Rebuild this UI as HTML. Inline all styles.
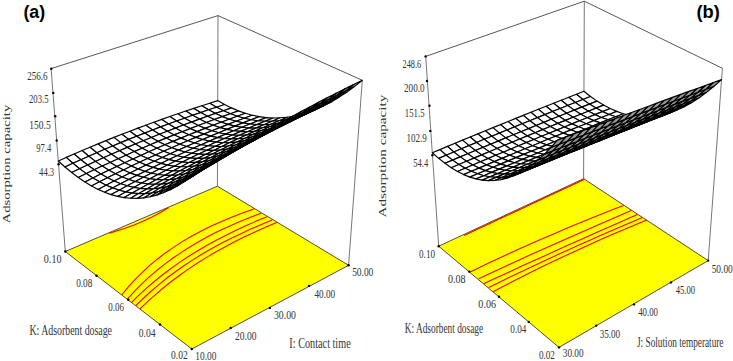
<!DOCTYPE html>
<html><head><meta charset="utf-8"><style>
html,body{margin:0;padding:0;background:#fff;overflow:hidden}
svg{display:block}
.n{font-family:"Liberation Serif",serif;fill:#333}
.h{font-family:"Liberation Sans",sans-serif;font-weight:bold;fill:#000}
</style></head><body>
<svg width="733" height="361" viewBox="0 0 733 361">
<rect width="733" height="361" fill="#fff"/>
<polygon points="191.8,349.0 348.6,265.3 217.4,186.2 65.3,251.5" fill="#ffff00" stroke="#222" stroke-width="0.8"/>
<g fill="none" stroke="#f00" stroke-width="1.1" stroke-linejoin="round"><polyline points="121.7,295.0 128.1,287.2 134.9,279.7 142.0,272.6 149.4,265.7 157.2,259.2 165.3,253.0 173.8,247.1 182.6,241.4 191.8,236.0 201.3,230.9 211.2,226.0 221.5,221.4 232.1,217.0 243.1,212.8 254.5,208.8"/><polyline points="127.4,299.1 134.2,291.6 141.3,284.4 148.7,277.4 156.4,270.8 164.4,264.4 172.7,258.2 181.3,252.4 190.2,246.7 199.4,241.3 208.9,236.1 218.7,231.1 228.8,226.4 239.3,221.8 250.0,217.4 261.1,213.3"/><polyline points="131.6,302.3 138.9,295.1 146.5,288.2 154.3,281.5 162.3,275.0 170.6,268.7 179.1,262.6 187.9,256.8 196.9,251.2 206.2,245.7 215.7,240.4 225.5,235.4 235.5,230.5 245.8,225.7 256.3,221.1 267.1,216.7"/><polyline points="135.8,305.7 143.2,298.5 150.7,291.5 158.6,284.8 166.6,278.3 175.0,272.0 183.5,266.0 192.4,260.1 201.4,254.5 210.8,249.1 220.4,243.8 230.2,238.7 240.3,233.9 250.7,229.1 261.3,224.6 272.2,220.1"/><polyline points="140.0,308.9 147.5,301.7 155.2,294.8 163.1,288.0 171.3,281.5 179.7,275.2 188.3,269.1 197.1,263.3 206.2,257.6 215.6,252.0 225.2,246.7 235.0,241.5 245.0,236.6 255.4,231.7 265.9,227.0 276.7,222.5"/></g><polyline fill="none" stroke="#f00" stroke-width="1.1" points="109.2,233.3 114.3,231.7 119.4,230.1 124.4,228.5 129.3,226.7 134.1,225.0 138.8,223.1 143.4,221.1 147.8,219.0 152.1,216.9 156.3,214.7 160.4,212.4 164.5,210.1 168.5,207.8"/>
<g stroke="#666" stroke-width="0.9"><line x1="65.3" y1="251.5" x2="51.1" y2="68.6"/><line x1="217.4" y1="186.2" x2="218.0" y2="15.6"/><line x1="348.6" y1="265.3" x2="362.3" y2="80.3"/></g>
<g stroke="#444" stroke-width="0.9"><line x1="51.1" y1="68.6" x2="218.0" y2="15.6"/><line x1="218.0" y1="15.6" x2="362.3" y2="80.3"/></g>
<g fill="#000"><circle cx="65.3" cy="251.5" r="1.2"/><circle cx="96.5" cy="275.7" r="1.2"/><circle cx="128.3" cy="299.7" r="1.2"/><circle cx="160.0" cy="324.5" r="1.2"/><circle cx="191.8" cy="349.0" r="1.2"/><circle cx="230.7" cy="328.0" r="1.2"/><circle cx="269.9" cy="307.9" r="1.2"/><circle cx="309.0" cy="285.9" r="1.2"/><circle cx="348.6" cy="265.3" r="1.2"/><circle cx="51.3" cy="68.8" r="1.2"/><circle cx="53.3" cy="92.9" r="1.2"/><circle cx="55.2" cy="116.2" r="1.2"/><circle cx="56.7" cy="140.5" r="1.2"/><circle cx="58.6" cy="164.3" r="1.2"/></g>
<g fill="#fff" stroke="#000" stroke-width="1.15" stroke-linejoin="round">
<polygon points="216.6,107.2 224.6,104.5 217.7,100.6 209.7,103.2"/>
<polygon points="208.6,109.8 216.6,107.2 209.7,103.2 201.7,105.7"/>
<polygon points="223.5,110.7 231.5,107.9 224.6,104.5 216.6,107.2"/>
<polygon points="200.6,112.6 208.6,109.8 201.7,105.7 193.8,108.4"/>
<polygon points="215.5,113.4 223.5,110.7 216.6,107.2 208.6,109.8"/>
<polygon points="230.4,113.7 238.4,110.9 231.5,107.9 223.5,110.7"/>
<polygon points="192.6,115.3 200.6,112.6 193.8,108.4 185.8,111.0"/>
<polygon points="207.5,116.3 215.5,113.4 208.6,109.8 200.6,112.6"/>
<polygon points="222.3,116.6 230.4,113.7 223.5,110.7 215.5,113.4"/>
<polygon points="237.3,116.2 245.3,113.3 238.4,110.9 230.4,113.7"/>
<polygon points="184.6,118.2 192.6,115.3 185.8,111.0 177.8,113.8"/>
<polygon points="199.5,119.1 207.5,116.3 200.6,112.6 192.6,115.3"/>
<polygon points="214.3,119.5 222.3,116.6 215.5,113.4 207.5,116.3"/>
<polygon points="229.2,119.2 237.3,116.2 230.4,113.7 222.3,116.6"/>
<polygon points="244.2,118.2 252.2,115.2 245.3,113.3 237.3,116.2"/>
<polygon points="176.6,121.0 184.6,118.2 177.8,113.8 169.8,116.5"/>
<polygon points="191.5,122.1 199.5,119.1 192.6,115.3 184.6,118.2"/>
<polygon points="206.3,122.5 214.3,119.5 207.5,116.3 199.5,119.1"/>
<polygon points="221.2,122.2 229.2,119.2 222.3,116.6 214.3,119.5"/>
<polygon points="236.1,121.3 244.2,118.2 237.3,116.2 229.2,119.2"/>
<polygon points="168.6,124.0 176.6,121.0 169.8,116.5 161.8,119.4"/>
<polygon points="251.1,119.8 259.2,116.6 252.2,115.2 244.2,118.2"/>
<polygon points="183.4,125.0 191.5,122.1 184.6,118.2 176.6,121.0"/>
<polygon points="198.3,125.5 206.3,122.5 199.5,119.1 191.5,122.1"/>
<polygon points="213.1,125.3 221.2,122.2 214.3,119.5 206.3,122.5"/>
<polygon points="228.1,124.4 236.1,121.3 229.2,119.2 221.2,122.2"/>
<polygon points="160.6,126.9 168.6,124.0 161.8,119.4 153.8,122.2"/>
<polygon points="243.0,122.9 251.1,119.8 244.2,118.2 236.1,121.3"/>
<polygon points="175.4,128.1 183.4,125.0 176.6,121.0 168.6,124.0"/>
<polygon points="190.3,128.6 198.3,125.5 191.5,122.1 183.4,125.0"/>
<polygon points="258.1,120.8 266.2,117.6 259.2,116.6 251.1,119.8"/>
<polygon points="205.1,128.4 213.1,125.3 206.3,122.5 198.3,125.5"/>
<polygon points="220.0,127.6 228.1,124.4 221.2,122.2 213.1,125.3"/>
<polygon points="152.6,130.0 160.6,126.9 153.8,122.2 145.8,125.2"/>
<polygon points="234.9,126.1 243.0,122.9 236.1,121.3 228.1,124.4"/>
<polygon points="167.4,131.2 175.4,128.1 168.6,124.0 160.6,126.9"/>
<polygon points="182.2,131.7 190.3,128.6 183.4,125.0 175.4,128.1"/>
<polygon points="250.0,124.0 258.1,120.8 251.1,119.8 243.0,122.9"/>
<polygon points="197.1,131.6 205.1,128.4 198.3,125.5 190.3,128.6"/>
<polygon points="211.9,130.8 220.0,127.6 213.1,125.3 205.1,128.4"/>
<polygon points="265.1,121.3 273.2,118.0 266.2,117.6 258.1,120.8"/>
<polygon points="144.7,133.1 152.6,130.0 145.8,125.2 137.9,128.1"/>
<polygon points="226.9,129.4 234.9,126.1 228.1,124.4 220.0,127.6"/>
<polygon points="159.4,134.3 167.4,131.2 160.6,126.9 152.6,130.0"/>
<polygon points="174.2,134.9 182.2,131.7 175.4,128.1 167.4,131.2"/>
<polygon points="241.8,127.3 250.0,124.0 243.0,122.9 234.9,126.1"/>
<polygon points="189.0,134.8 197.1,131.6 190.3,128.6 182.2,131.7"/>
<polygon points="203.9,134.1 211.9,130.8 205.1,128.4 197.1,131.6"/>
<polygon points="256.9,124.6 265.1,121.3 258.1,120.8 250.0,124.0"/>
<polygon points="136.7,136.2 144.7,133.1 137.9,128.1 129.9,131.2"/>
<polygon points="218.8,132.7 226.9,129.4 220.0,127.6 211.9,130.8"/>
<polygon points="151.4,137.5 159.4,134.3 152.6,130.0 144.7,133.1"/>
<polygon points="166.2,138.1 174.2,134.9 167.4,131.2 159.4,134.3"/>
<polygon points="272.1,121.2 280.3,117.8 273.2,118.0 265.1,121.3"/>
<polygon points="233.7,130.7 241.8,127.3 234.9,126.1 226.9,129.4"/>
<polygon points="181.0,138.1 189.0,134.8 182.2,131.7 174.2,134.9"/>
<polygon points="195.8,137.4 203.9,134.1 197.1,131.6 189.0,134.8"/>
<polygon points="248.8,128.0 256.9,124.6 250.0,124.0 241.8,127.3"/>
<polygon points="128.7,139.4 136.7,136.2 129.9,131.2 121.9,134.3"/>
<polygon points="210.7,136.1 218.8,132.7 211.9,130.8 203.9,134.1"/>
<polygon points="143.4,140.7 151.4,137.5 144.7,133.1 136.7,136.2"/>
<polygon points="158.2,141.4 166.2,138.1 159.4,134.3 151.4,137.5"/>
<polygon points="263.9,124.7 272.1,121.2 265.1,121.3 256.9,124.6"/>
<polygon points="225.6,134.1 233.7,130.7 226.9,129.4 218.8,132.7"/>
<polygon points="173.0,141.4 181.0,138.1 174.2,134.9 166.2,138.1"/>
<polygon points="187.8,140.8 195.8,137.4 189.0,134.8 181.0,138.1"/>
<polygon points="240.7,131.4 248.8,128.0 241.8,127.3 233.7,130.7"/>
<polygon points="279.2,120.7 287.4,117.2 280.3,117.8 272.1,121.2"/>
<polygon points="120.7,142.6 128.7,139.4 121.9,134.3 113.9,137.4"/>
<polygon points="202.6,139.5 210.7,136.1 203.9,134.1 195.8,137.4"/>
<polygon points="135.4,144.0 143.4,140.7 136.7,136.2 128.7,139.4"/>
<polygon points="150.2,144.8 158.2,141.4 151.4,137.5 143.4,140.7"/>
<polygon points="255.8,128.1 263.9,124.7 256.9,124.6 248.8,128.0"/>
<polygon points="217.5,137.6 225.6,134.1 218.8,132.7 210.7,136.1"/>
<polygon points="164.9,144.8 173.0,141.4 166.2,138.1 158.2,141.4"/>
<polygon points="179.7,144.2 187.8,140.8 181.0,138.1 173.0,141.4"/>
<polygon points="232.5,135.0 240.7,131.4 233.7,130.7 225.6,134.1"/>
<polygon points="271.0,124.2 279.2,120.7 272.1,121.2 263.9,124.7"/>
<polygon points="112.7,146.0 120.7,142.6 113.9,137.4 106.0,140.6"/>
<polygon points="194.5,143.0 202.6,139.5 195.8,137.4 187.8,140.8"/>
<polygon points="127.4,147.4 135.4,144.0 128.7,139.4 120.7,142.6"/>
<polygon points="142.2,148.2 150.2,144.8 143.4,140.7 135.4,144.0"/>
<polygon points="247.6,131.7 255.8,128.1 248.8,128.0 240.7,131.4"/>
<polygon points="209.4,141.1 217.5,137.6 210.7,136.1 202.6,139.5"/>
<polygon points="156.9,148.3 164.9,144.8 158.2,141.4 150.2,144.8"/>
<polygon points="286.3,119.6 294.5,116.0 287.4,117.2 279.2,120.7"/>
<polygon points="171.7,147.7 179.7,144.2 173.0,141.4 164.9,144.8"/>
<polygon points="224.4,138.5 232.5,135.0 225.6,134.1 217.5,137.6"/>
<polygon points="262.8,127.8 271.0,124.2 263.9,124.7 255.8,128.1"/>
<polygon points="104.8,149.3 112.7,146.0 106.0,140.6 98.0,143.9"/>
<polygon points="186.5,146.5 194.5,143.0 187.8,140.8 179.7,144.2"/>
<polygon points="119.5,150.8 127.4,147.4 120.7,142.6 112.7,146.0"/>
<polygon points="134.2,151.6 142.2,148.2 135.4,144.0 127.4,147.4"/>
<polygon points="239.4,135.3 247.6,131.7 240.7,131.4 232.5,135.0"/>
<polygon points="201.3,144.7 209.4,141.1 202.6,139.5 194.5,143.0"/>
<polygon points="148.9,151.8 156.9,148.3 150.2,144.8 142.2,148.2"/>
<polygon points="278.1,123.2 286.3,119.6 279.2,120.7 271.0,124.2"/>
<polygon points="163.6,151.3 171.7,147.7 164.9,144.8 156.9,148.3"/>
<polygon points="216.3,142.1 224.4,138.5 217.5,137.6 209.4,141.1"/>
<polygon points="254.6,131.4 262.8,127.8 255.8,128.1 247.6,131.7"/>
<polygon points="96.8,152.7 104.8,149.3 98.0,143.9 90.0,147.2"/>
<polygon points="178.4,150.1 186.5,146.5 179.7,144.2 171.7,147.7"/>
<polygon points="111.5,154.3 119.5,150.8 112.7,146.0 104.8,149.3"/>
<polygon points="293.5,117.9 301.8,114.3 294.5,116.0 286.3,119.6"/>
<polygon points="126.2,155.2 134.2,151.6 127.4,147.4 119.5,150.8"/>
<polygon points="231.3,138.9 239.4,135.3 232.5,135.0 224.4,138.5"/>
<polygon points="193.2,148.3 201.3,144.7 194.5,143.0 186.5,146.5"/>
<polygon points="140.9,155.4 148.9,151.8 142.2,148.2 134.2,151.6"/>
<polygon points="269.8,126.8 278.1,123.2 271.0,124.2 262.8,127.8"/>
<polygon points="155.6,154.9 163.6,151.3 156.9,148.3 148.9,151.8"/>
<polygon points="208.1,145.8 216.3,142.1 209.4,141.1 201.3,144.7"/>
<polygon points="246.4,135.1 254.6,131.4 247.6,131.7 239.4,135.3"/>
<polygon points="88.8,156.2 96.8,152.7 90.0,147.2 82.1,150.5"/>
<polygon points="170.3,153.8 178.4,150.1 171.7,147.7 163.6,151.3"/>
<polygon points="103.5,157.8 111.5,154.3 104.8,149.3 96.8,152.7"/>
<polygon points="285.2,121.6 293.5,117.9 286.3,119.6 278.1,123.2"/>
<polygon points="118.2,158.7 126.2,155.2 119.5,150.8 111.5,154.3"/>
<polygon points="223.1,142.7 231.3,138.9 224.4,138.5 216.3,142.1"/>
<polygon points="185.1,152.0 193.2,148.3 186.5,146.5 178.4,150.1"/>
<polygon points="132.9,159.0 140.9,155.4 134.2,151.6 126.2,155.2"/>
<polygon points="261.6,130.5 269.8,126.8 262.8,127.8 254.6,131.4"/>
<polygon points="147.6,158.6 155.6,154.9 148.9,151.8 140.9,155.4"/>
<polygon points="200.0,149.5 208.1,145.8 201.3,144.7 193.2,148.3"/>
<polygon points="300.7,115.7 309.0,112.0 301.8,114.3 293.5,117.9"/>
<polygon points="238.2,138.8 246.4,135.1 239.4,135.3 231.3,138.9"/>
<polygon points="80.9,159.7 88.8,156.2 82.1,150.5 74.1,154.0"/>
<polygon points="162.3,157.5 170.3,153.8 163.6,151.3 155.6,154.9"/>
<polygon points="95.5,161.4 103.5,157.8 96.8,152.7 88.8,156.2"/>
<polygon points="276.9,125.4 285.2,121.6 278.1,123.2 269.8,126.8"/>
<polygon points="110.2,162.4 118.2,158.7 111.5,154.3 103.5,157.8"/>
<polygon points="215.0,146.4 223.1,142.7 216.3,142.1 208.1,145.8"/>
<polygon points="177.1,155.8 185.1,152.0 178.4,150.1 170.3,153.8"/>
<polygon points="124.8,162.7 132.9,159.0 126.2,155.2 118.2,158.7"/>
<polygon points="253.4,134.3 261.6,130.5 254.6,131.4 246.4,135.1"/>
<polygon points="139.5,162.3 147.6,158.6 140.9,155.4 132.9,159.0"/>
<polygon points="191.9,153.3 200.0,149.5 193.2,148.3 185.1,152.0"/>
<polygon points="230.0,142.6 238.2,138.8 231.3,138.9 223.1,142.7"/>
<polygon points="292.4,119.5 300.7,115.7 293.5,117.9 285.2,121.6"/>
<polygon points="72.9,163.3 80.9,159.7 74.1,154.0 66.2,157.4"/>
<polygon points="154.2,161.3 162.3,157.5 155.6,154.9 147.6,158.6"/>
<polygon points="87.6,165.0 95.5,161.4 88.8,156.2 80.9,159.7"/>
<polygon points="268.7,129.2 276.9,125.4 269.8,126.8 261.6,130.5"/>
<polygon points="102.2,166.1 110.2,162.4 103.5,157.8 95.5,161.4"/>
<polygon points="206.8,150.2 215.0,146.4 208.1,145.8 200.0,149.5"/>
<polygon points="169.0,159.6 177.1,155.8 170.3,153.8 162.3,157.5"/>
<polygon points="116.9,166.4 124.8,162.7 118.2,158.7 110.2,162.4"/>
<polygon points="245.1,138.2 253.4,134.3 246.4,135.1 238.2,138.8"/>
<polygon points="131.5,166.1 139.5,162.3 132.9,159.0 124.8,162.7"/>
<polygon points="308.0,113.0 316.4,109.2 309.0,112.0 300.7,115.7"/>
<polygon points="183.8,157.2 191.9,153.3 185.1,152.0 177.1,155.8"/>
<polygon points="221.8,146.5 230.0,142.6 223.1,142.7 215.0,146.4"/>
<polygon points="284.1,123.3 292.4,119.5 285.2,121.6 276.9,125.4"/>
<polygon points="65.0,167.0 72.9,163.3 66.2,157.4 58.3,161.0"/>
<polygon points="146.2,165.1 154.2,161.3 147.6,158.6 139.5,162.3"/>
<polygon points="79.6,168.7 87.6,165.0 80.9,159.7 72.9,163.3"/>
<polygon points="260.4,133.0 268.7,129.2 261.6,130.5 253.4,134.3"/>
<polygon points="94.2,169.8 102.2,166.1 95.5,161.4 87.6,165.0"/>
<polygon points="198.7,154.1 206.8,150.2 200.0,149.5 191.9,153.3"/>
<polygon points="160.9,163.4 169.0,159.6 162.3,157.5 154.2,161.3"/>
<polygon points="108.9,170.2 116.9,166.4 110.2,162.4 102.2,166.1"/>
<polygon points="236.9,142.1 245.1,138.2 238.2,138.8 230.0,142.6"/>
<polygon points="123.5,169.9 131.5,166.1 124.8,162.7 116.9,166.4"/>
<polygon points="299.7,116.8 308.0,113.0 300.7,115.7 292.4,119.5"/>
<polygon points="175.7,161.1 183.8,157.2 177.1,155.8 169.0,159.6"/>
<polygon points="213.6,150.4 221.8,146.5 215.0,146.4 206.8,150.2"/>
<polygon points="275.8,127.2 284.1,123.3 276.9,125.4 268.7,129.2"/>
<polygon points="138.1,169.0 146.2,165.1 139.5,162.3 131.5,166.1"/>
<polygon points="71.7,172.5 79.6,168.7 72.9,163.3 65.0,167.0"/>
<polygon points="86.3,173.6 94.2,169.8 87.6,165.0 79.6,168.7"/>
<polygon points="252.1,137.0 260.4,133.0 253.4,134.3 245.1,138.2"/>
<polygon points="190.5,158.1 198.7,154.1 191.9,153.3 183.8,157.2"/>
<polygon points="152.8,167.4 160.9,163.4 154.2,161.3 146.2,165.1"/>
<polygon points="100.9,174.1 108.9,170.2 102.2,166.1 94.2,169.8"/>
<polygon points="228.7,146.0 236.9,142.1 230.0,142.6 221.8,146.5"/>
<polygon points="315.4,109.7 323.8,105.8 316.4,109.2 308.0,113.0"/>
<polygon points="115.5,173.8 123.5,169.9 116.9,166.4 108.9,170.2"/>
<polygon points="291.3,120.8 299.7,116.8 292.4,119.5 284.1,123.3"/>
<polygon points="167.6,165.1 175.7,161.1 169.0,159.6 160.9,163.4"/>
<polygon points="205.5,154.4 213.6,150.4 206.8,150.2 198.7,154.1"/>
<polygon points="267.5,131.2 275.8,127.2 268.7,129.2 260.4,133.0"/>
<polygon points="130.1,172.9 138.1,169.0 131.5,166.1 123.5,169.9"/>
<polygon points="78.3,177.5 86.3,173.6 79.6,168.7 71.7,172.5"/>
<polygon points="243.9,140.9 252.1,137.0 245.1,138.2 236.9,142.1"/>
<polygon points="182.4,162.1 190.5,158.1 183.8,157.2 175.7,161.1"/>
<polygon points="144.8,171.4 152.8,167.4 146.2,165.1 138.1,169.0"/>
<polygon points="92.9,178.0 100.9,174.1 94.2,169.8 86.3,173.6"/>
<polygon points="220.5,150.0 228.7,146.0 221.8,146.5 213.6,150.4"/>
<polygon points="307.0,113.6 315.4,109.7 308.0,113.0 299.7,116.8"/>
<polygon points="107.5,177.8 115.5,173.8 108.9,170.2 100.9,174.1"/>
<polygon points="283.0,124.7 291.3,120.8 284.1,123.3 275.8,127.2"/>
<polygon points="159.5,169.1 167.6,165.1 160.9,163.4 152.8,167.4"/>
<polygon points="197.3,158.4 205.5,154.4 198.7,154.1 190.5,158.1"/>
<polygon points="259.2,135.2 267.5,131.2 260.4,133.0 252.1,137.0"/>
<polygon points="122.1,177.0 130.1,172.9 123.5,169.9 115.5,173.8"/>
<polygon points="235.6,145.0 243.9,140.9 236.9,142.1 228.7,146.0"/>
<polygon points="174.3,166.2 182.4,162.1 175.7,161.1 167.6,165.1"/>
<polygon points="136.7,175.4 144.8,171.4 138.1,169.0 130.1,172.9"/>
<polygon points="85.0,182.0 92.9,178.0 86.3,173.6 78.3,177.5"/>
<polygon points="322.9,105.8 331.3,101.9 323.8,105.8 315.4,109.7" fill="#999"/>
<polygon points="212.3,154.1 220.5,150.0 213.6,150.4 205.5,154.4"/>
<polygon points="298.6,117.6 307.0,113.6 299.7,116.8 291.3,120.8"/>
<polygon points="99.5,181.8 107.5,177.8 100.9,174.1 92.9,178.0"/>
<polygon points="274.6,128.8 283.0,124.7 275.8,127.2 267.5,131.2"/>
<polygon points="151.4,173.2 159.5,169.1 152.8,167.4 144.8,171.4"/>
<polygon points="189.1,162.5 197.3,158.4 190.5,158.1 182.4,162.1"/>
<polygon points="250.9,139.3 259.2,135.2 252.1,137.0 243.9,140.9"/>
<polygon points="114.1,181.0 122.1,177.0 115.5,173.8 107.5,177.8"/>
<polygon points="227.4,149.1 235.6,145.0 228.7,146.0 220.5,150.0"/>
<polygon points="166.1,170.3 174.3,166.2 167.6,165.1 159.5,169.1"/>
<polygon points="128.7,179.5 136.7,175.4 130.1,172.9 122.1,177.0"/>
<polygon points="314.4,109.8 322.9,105.8 315.4,109.7 307.0,113.6" fill="#999"/>
<polygon points="204.1,158.2 212.3,154.1 205.5,154.4 197.3,158.4"/>
<polygon points="290.2,121.7 298.6,117.6 291.3,120.8 283.0,124.7"/>
<polygon points="91.5,185.9 99.5,181.8 92.9,178.0 85.0,182.0"/>
<polygon points="266.3,132.9 274.6,128.8 267.5,131.2 259.2,135.2"/>
<polygon points="143.3,177.3 151.4,173.2 144.8,171.4 136.7,175.4"/>
<polygon points="181.0,166.7 189.1,162.5 182.4,162.1 174.3,166.2"/>
<polygon points="242.6,143.4 250.9,139.3 243.9,140.9 235.6,145.0"/>
<polygon points="106.1,185.2 114.1,181.0 107.5,177.8 99.5,181.8"/>
<polygon points="219.1,153.2 227.4,149.1 220.5,150.0 212.3,154.1"/>
<polygon points="158.0,174.5 166.1,170.3 159.5,169.1 151.4,173.2"/>
<polygon points="120.6,183.7 128.7,179.5 122.1,177.0 114.1,181.0"/>
<polygon points="330.4,101.4 338.9,97.3 331.3,101.9 322.9,105.8" fill="#999"/>
<polygon points="195.9,162.4 204.1,158.2 197.3,158.4 189.1,162.5"/>
<polygon points="306.0,113.9 314.4,109.8 307.0,113.6 298.6,117.6" fill="#999"/>
<polygon points="281.8,125.8 290.2,121.7 283.0,124.7 274.6,128.8"/>
<polygon points="257.9,137.0 266.3,132.9 259.2,135.2 250.9,139.3"/>
<polygon points="135.3,181.6 143.3,177.3 136.7,175.4 128.7,179.5"/>
<polygon points="172.8,170.9 181.0,166.7 174.3,166.2 166.1,170.3"/>
<polygon points="98.1,189.4 106.1,185.2 99.5,181.8 91.5,185.9"/>
<polygon points="234.3,147.6 242.6,143.4 235.6,145.0 227.4,149.1"/>
<polygon points="210.9,157.5 219.1,153.2 212.3,154.1 204.1,158.2"/>
<polygon points="149.9,178.7 158.0,174.5 151.4,173.2 143.3,177.3"/>
<polygon points="112.6,187.9 120.6,183.7 114.1,181.0 106.1,185.2"/>
<polygon points="187.7,166.7 195.9,162.4 189.1,162.5 181.0,166.7"/>
<polygon points="321.9,105.5 330.4,101.4 322.9,105.8 314.4,109.8" fill="#999"/>
<polygon points="297.5,118.0 306.0,113.9 298.6,117.6 290.2,121.7" fill="#999"/>
<polygon points="273.4,129.9 281.8,125.8 274.6,128.8 266.3,132.9"/>
<polygon points="249.6,141.2 257.9,137.0 250.9,139.3 242.6,143.4"/>
<polygon points="127.2,185.8 135.3,181.6 128.7,179.5 120.6,183.7"/>
<polygon points="164.7,175.2 172.8,170.9 166.1,170.3 158.0,174.5"/>
<polygon points="226.0,151.8 234.3,147.6 227.4,149.1 219.1,153.2"/>
<polygon points="202.6,161.8 210.9,157.5 204.1,158.2 195.9,162.4"/>
<polygon points="141.8,183.0 149.9,178.7 143.3,177.3 135.3,181.6"/>
<polygon points="104.6,192.2 112.6,187.9 106.1,185.2 98.1,189.4"/>
<polygon points="179.5,171.0 187.7,166.7 181.0,166.7 172.8,170.9"/>
<polygon points="313.4,109.6 321.9,105.5 314.4,109.8 306.0,113.9" fill="#999"/>
<polygon points="289.1,122.2 297.5,118.0 290.2,121.7 281.8,125.8" fill="#999"/>
<polygon points="338.1,96.3 346.6,92.2 338.9,97.3 330.4,101.4" fill="#999"/>
<polygon points="265.0,134.2 273.4,129.9 266.3,132.9 257.9,137.0"/>
<polygon points="241.2,145.5 249.6,141.2 242.6,143.4 234.3,147.6"/>
<polygon points="119.2,190.2 127.2,185.8 120.6,183.7 112.6,187.9"/>
<polygon points="156.5,179.6 164.7,175.2 158.0,174.5 149.9,178.7"/>
<polygon points="217.7,156.1 226.0,151.8 219.1,153.2 210.9,157.5"/>
<polygon points="194.4,166.1 202.6,161.8 195.9,162.4 187.7,166.7"/>
<polygon points="133.8,187.4 141.8,183.0 135.3,181.6 127.2,185.8"/>
<polygon points="171.3,175.4 179.5,171.0 172.8,170.9 164.7,175.2"/>
<polygon points="304.9,113.8 313.4,109.6 306.0,113.9 297.5,118.0" fill="#999"/>
<polygon points="280.6,126.5 289.1,122.2 281.8,125.8 273.4,129.9"/>
<polygon points="329.5,100.5 338.1,96.3 330.4,101.4 321.9,105.5" fill="#999"/>
<polygon points="256.6,138.5 265.0,134.2 257.9,137.0 249.6,141.2"/>
<polygon points="111.1,194.6 119.2,190.2 112.6,187.9 104.6,192.2"/>
<polygon points="232.9,149.8 241.2,145.5 234.3,147.6 226.0,151.8"/>
<polygon points="148.4,184.0 156.5,179.6 149.9,178.7 141.8,183.0"/>
<polygon points="209.4,160.5 217.7,156.1 210.9,157.5 202.6,161.8"/>
<polygon points="186.2,170.5 194.4,166.1 187.7,166.7 179.5,171.0"/>
<polygon points="125.7,191.9 133.8,187.4 127.2,185.8 119.2,190.2"/>
<polygon points="163.2,179.8 171.3,175.4 164.7,175.2 156.5,179.6"/>
<polygon points="296.4,118.1 304.9,113.8 297.5,118.0 289.1,122.2" fill="#999"/>
<polygon points="272.2,130.8 280.6,126.5 273.4,129.9 265.0,134.2"/>
<polygon points="320.9,104.7 329.5,100.5 321.9,105.5 313.4,109.6" fill="#999"/>
<polygon points="248.2,142.8 256.6,138.5 249.6,141.2 241.2,145.5"/>
<polygon points="345.8,90.7 354.4,86.6 346.6,92.2 338.1,96.3" fill="#999"/>
<polygon points="224.6,154.2 232.9,149.8 226.0,151.8 217.7,156.1"/>
<polygon points="140.3,188.5 148.4,184.0 141.8,183.0 133.8,187.4"/>
<polygon points="201.2,165.0 209.4,160.5 202.6,161.8 194.4,166.1"/>
<polygon points="178.0,175.0 186.2,170.5 179.5,171.0 171.3,175.4"/>
<polygon points="117.6,196.4 125.7,191.9 119.2,190.2 111.1,194.6"/>
<polygon points="155.0,184.3 163.2,179.8 156.5,179.6 148.4,184.0"/>
<polygon points="287.9,122.4 296.4,118.1 289.1,122.2 280.6,126.5" fill="#999"/>
<polygon points="263.7,135.2 272.2,130.8 265.0,134.2 256.6,138.5"/>
<polygon points="312.4,109.0 320.9,104.7 313.4,109.6 304.9,113.8" fill="#999"/>
<polygon points="239.9,147.3 248.2,142.8 241.2,145.5 232.9,149.8"/>
<polygon points="337.2,95.0 345.8,90.7 338.1,96.3 329.5,100.5" fill="#999"/>
<polygon points="216.3,158.7 224.6,154.2 217.7,156.1 209.4,160.5"/>
<polygon points="132.2,193.0 140.3,188.5 133.8,187.4 125.7,191.9"/>
<polygon points="192.9,169.5 201.2,165.0 194.4,166.1 186.2,170.5"/>
<polygon points="169.8,179.5 178.0,175.0 171.3,175.4 163.2,179.8"/>
<polygon points="146.9,188.9 155.0,184.3 148.4,184.0 140.3,188.5"/>
<polygon points="279.4,126.8 287.9,122.4 280.6,126.5 272.2,130.8" fill="#999"/>
<polygon points="255.3,139.6 263.7,135.2 256.6,138.5 248.2,142.8"/>
<polygon points="303.8,113.4 312.4,109.0 304.9,113.8 296.4,118.1" fill="#999"/>
<polygon points="231.5,151.8 239.9,147.3 232.9,149.8 224.6,154.2"/>
<polygon points="328.5,99.3 337.2,95.0 329.5,100.5 320.9,104.7" fill="#999"/>
<polygon points="208.0,163.2 216.3,158.7 209.4,160.5 201.2,165.0"/>
<polygon points="124.1,197.6 132.2,193.0 125.7,191.9 117.6,196.4"/>
<polygon points="353.6,84.5 362.3,80.3 354.4,86.6 345.8,90.7" fill="#999"/>
<polygon points="184.7,174.0 192.9,169.5 186.2,170.5 178.0,175.0"/>
<polygon points="161.6,184.1 169.8,179.5 163.2,179.8 155.0,184.3"/>
<polygon points="138.7,193.6 146.9,188.9 140.3,188.5 132.2,193.0"/>
<polygon points="246.9,144.1 255.3,139.6 248.2,142.8 239.9,147.3"/>
<polygon points="270.9,131.3 279.4,126.8 272.2,130.8 263.7,135.2" fill="#999"/>
<polygon points="223.1,156.3 231.5,151.8 224.6,154.2 216.3,158.7"/>
<polygon points="295.2,117.8 303.8,113.4 296.4,118.1 287.9,122.4" fill="#999"/>
<polygon points="199.7,167.8 208.0,163.2 201.2,165.0 192.9,169.5"/>
<polygon points="319.9,103.6 328.5,99.3 320.9,104.7 312.4,109.0" fill="#999"/>
<polygon points="176.4,178.7 184.7,174.0 178.0,175.0 169.8,179.5"/>
<polygon points="344.9,88.8 353.6,84.5 345.8,90.7 337.2,95.0" fill="#999"/>
<polygon points="153.4,188.8 161.6,184.1 155.0,184.3 146.9,188.9"/>
<polygon points="130.6,198.3 138.7,193.6 132.2,193.0 124.1,197.6"/>
<polygon points="238.5,148.7 246.9,144.1 239.9,147.3 231.5,151.8"/>
<polygon points="262.4,135.8 270.9,131.3 263.7,135.2 255.3,139.6" fill="#999"/>
<polygon points="214.8,160.9 223.1,156.3 216.3,158.7 208.0,163.2"/>
<polygon points="286.7,122.2 295.2,117.8 287.9,122.4 279.4,126.8" fill="#999"/>
<polygon points="191.4,172.5 199.7,167.8 192.9,169.5 184.7,174.0"/>
<polygon points="311.3,108.0 319.9,103.6 312.4,109.0 303.8,113.4" fill="#999"/>
<polygon points="168.2,183.4 176.4,178.7 169.8,179.5 161.6,184.1"/>
<polygon points="336.2,93.2 344.9,88.8 337.2,95.0 328.5,99.3" fill="#999"/>
<polygon points="145.3,193.6 153.4,188.8 146.9,188.9 138.7,193.6"/>
<polygon points="230.1,153.3 238.5,148.7 231.5,151.8 223.1,156.3"/>
<polygon points="254.0,140.4 262.4,135.8 255.3,139.6 246.9,144.1"/>
<polygon points="206.5,165.6 214.8,160.9 208.0,163.2 199.7,167.8"/>
<polygon points="278.2,126.8 286.7,122.2 279.4,126.8 270.9,131.3" fill="#999"/>
<polygon points="183.1,177.2 191.4,172.5 184.7,174.0 176.4,178.7"/>
<polygon points="302.7,112.5 311.3,108.0 303.8,113.4 295.2,117.8" fill="#999"/>
<polygon points="160.0,188.1 168.2,183.4 161.6,184.1 153.4,188.8"/>
<polygon points="327.5,97.6 336.2,93.2 328.5,99.3 319.9,103.6" fill="#999"/>
<polygon points="137.1,198.4 145.3,193.6 138.7,193.6 130.6,198.3"/>
<polygon points="221.7,158.0 230.1,153.3 223.1,156.3 214.8,160.9"/>
<polygon points="245.5,145.0 254.0,140.4 246.9,144.1 238.5,148.7"/>
<polygon points="198.1,170.4 206.5,165.6 199.7,167.8 191.4,172.5"/>
<polygon points="269.6,131.4 278.2,126.8 270.9,131.3 262.4,135.8" fill="#999"/>
<polygon points="174.9,182.0 183.1,177.2 176.4,178.7 168.2,183.4"/>
<polygon points="294.1,117.1 302.7,112.5 295.2,117.8 286.7,122.2" fill="#999"/>
<polygon points="151.8,193.0 160.0,188.1 153.4,188.8 145.3,193.6"/>
<polygon points="318.9,102.1 327.5,97.6 319.9,103.6 311.3,108.0" fill="#999"/>
<polygon points="213.3,162.8 221.7,158.0 214.8,160.9 206.5,165.6"/>
<polygon points="237.0,149.7 245.5,145.0 238.5,148.7 230.1,153.3"/>
<polygon points="189.8,175.2 198.1,170.4 191.4,172.5 183.1,177.2"/>
<polygon points="261.1,136.0 269.6,131.4 262.4,135.8 254.0,140.4" fill="#999"/>
<polygon points="166.6,186.9 174.9,182.0 168.2,183.4 160.0,188.1"/>
<polygon points="285.5,121.7 294.1,117.1 286.7,122.2 278.2,126.8" fill="#999"/>
<polygon points="143.6,197.9 151.8,193.0 145.3,193.6 137.1,198.4"/>
<polygon points="310.2,106.7 318.9,102.1 311.3,108.0 302.7,112.5" fill="#999"/>
<polygon points="204.9,167.6 213.3,162.8 206.5,165.6 198.1,170.4"/>
<polygon points="181.5,180.1 189.8,175.2 183.1,177.2 174.9,182.0"/>
<polygon points="228.6,154.5 237.0,149.7 230.1,153.3 221.7,158.0"/>
<polygon points="158.4,191.8 166.6,186.9 160.0,188.1 151.8,193.0"/>
<polygon points="252.6,140.8 261.1,136.0 254.0,140.4 245.5,145.0" fill="#999"/>
<polygon points="276.9,126.4 285.5,121.7 278.2,126.8 269.6,131.4" fill="#999"/>
<polygon points="301.5,111.3 310.2,106.7 302.7,112.5 294.1,117.1" fill="#999"/>
<polygon points="196.6,172.5 204.9,167.6 198.1,170.4 189.8,175.2"/>
<polygon points="173.2,185.0 181.5,180.1 174.9,182.0 166.6,186.9"/>
<polygon points="220.2,159.4 228.6,154.5 221.7,158.0 213.3,162.8"/>
<polygon points="150.1,196.8 158.4,191.8 151.8,193.0 143.6,197.9"/>
<polygon points="244.1,145.6 252.6,140.8 245.5,145.0 237.0,149.7" fill="#999"/>
<polygon points="268.3,131.1 276.9,126.4 269.6,131.4 261.1,136.0" fill="#999"/>
<polygon points="292.9,116.0 301.5,111.3 294.1,117.1 285.5,121.7" fill="#999"/>
<polygon points="188.2,177.5 196.6,172.5 189.8,175.2 181.5,180.1"/>
<polygon points="164.9,190.0 173.2,185.0 166.6,186.9 158.4,191.8"/>
<polygon points="211.7,164.3 220.2,159.4 213.3,162.8 204.9,167.6"/>
<polygon points="235.6,150.4 244.1,145.6 237.0,149.7 228.6,154.5" fill="#999"/>
<polygon points="259.7,135.9 268.3,131.1 261.1,136.0 252.6,140.8" fill="#999"/>
<polygon points="284.2,120.7 292.9,116.0 285.5,121.7 276.9,126.4" fill="#999"/>
<polygon points="179.9,182.6 188.2,177.5 181.5,180.1 173.2,185.0"/>
<polygon points="156.7,195.1 164.9,190.0 158.4,191.8 150.1,196.8"/>
<polygon points="203.3,169.3 211.7,164.3 204.9,167.6 196.6,172.5"/>
<polygon points="227.1,155.4 235.6,150.4 228.6,154.5 220.2,159.4" fill="#999"/>
<polygon points="251.2,140.8 259.7,135.9 252.6,140.8 244.1,145.6" fill="#999"/>
<polygon points="275.6,125.6 284.2,120.7 276.9,126.4 268.3,131.1" fill="#999"/>
<polygon points="171.5,187.7 179.9,182.6 173.2,185.0 164.9,190.0"/>
<polygon points="194.9,174.4 203.3,169.3 196.6,172.5 188.2,177.5"/>
<polygon points="218.6,160.4 227.1,155.4 220.2,159.4 211.7,164.3"/>
<polygon points="242.6,145.7 251.2,140.8 244.1,145.6 235.6,150.4" fill="#999"/>
<polygon points="267.0,130.4 275.6,125.6 268.3,131.1 259.7,135.9" fill="#999"/>
<polygon points="163.2,192.8 171.5,187.7 164.9,190.0 156.7,195.1"/>
<polygon points="186.6,179.5 194.9,174.4 188.2,177.5 179.9,182.6"/>
<polygon points="210.2,165.5 218.6,160.4 211.7,164.3 203.3,169.3"/>
<polygon points="234.1,150.8 242.6,145.7 235.6,150.4 227.1,155.4" fill="#999"/>
<polygon points="258.3,135.4 267.0,130.4 259.7,135.9 251.2,140.8" fill="#999"/>
<polygon points="178.2,184.7 186.6,179.5 179.9,182.6 171.5,187.7"/>
<polygon points="201.7,170.6 210.2,165.5 203.3,169.3 194.9,174.4"/>
<polygon points="225.6,155.8 234.1,150.8 227.1,155.4 218.6,160.4" fill="#999"/>
<polygon points="249.7,140.4 258.3,135.4 251.2,140.8 242.6,145.7" fill="#999"/>
<polygon points="169.8,190.0 178.2,184.7 171.5,187.7 163.2,192.8"/>
<polygon points="193.3,175.8 201.7,170.6 194.9,174.4 186.6,179.5"/>
<polygon points="217.0,161.0 225.6,155.8 218.6,160.4 210.2,165.5" fill="#999"/>
<polygon points="241.1,145.5 249.7,140.4 242.6,145.7 234.1,150.8" fill="#999"/>
<polygon points="184.9,181.1 193.3,175.8 186.6,179.5 178.2,184.7"/>
<polygon points="208.5,166.2 217.0,161.0 210.2,165.5 201.7,170.6" fill="#999"/>
<polygon points="232.5,150.7 241.1,145.5 234.1,150.8 225.6,155.8" fill="#999"/>
<polygon points="176.5,186.5 184.9,181.1 178.2,184.7 169.8,190.0"/>
<polygon points="200.0,171.5 208.5,166.2 201.7,170.6 193.3,175.8" fill="#999"/>
<polygon points="224.0,155.9 232.5,150.7 225.6,155.8 217.0,161.0" fill="#999"/>
<polygon points="191.6,176.9 200.0,171.5 193.3,175.8 184.9,181.1"/>
<polygon points="215.4,161.2 224.0,155.9 217.0,161.0 208.5,166.2" fill="#999"/>
<polygon points="183.1,182.3 191.6,176.9 184.9,181.1 176.5,186.5"/>
<polygon points="206.9,166.6 215.4,161.2 208.5,166.2 200.0,171.5" fill="#999"/>
<polygon points="198.3,172.1 206.9,166.6 200.0,171.5 191.6,176.9" fill="#999"/>
<polygon points="189.8,177.6 198.3,172.1 191.6,176.9 183.1,182.3" fill="#999"/>
</g>
<polygon points="559.0,347.4 708.2,260.6 583.6,178.7 438.7,246.2" fill="#ffff00" stroke="#222" stroke-width="0.8"/>
<g fill="none" stroke="#f00" stroke-width="1.1" stroke-linejoin="round"><polyline points="470.1,271.9 479.9,267.2 489.7,262.5 499.6,257.9 509.6,253.3 519.6,248.7 529.7,244.2 539.9,239.8 550.1,235.4 560.4,231.0 570.8,226.6 581.2,222.3 591.7,218.0 602.3,213.8 612.9,209.6 623.6,205.4"/><polyline points="478.7,278.7 488.7,274.1 498.6,269.4 508.7,264.8 518.7,260.2 528.8,255.6 538.9,251.1 549.0,246.5 559.2,242.0 569.4,237.4 579.6,232.9 589.9,228.4 600.1,223.9 610.5,219.4 620.8,214.9 631.2,210.4"/><polyline points="483.6,283.8 493.7,279.1 503.8,274.5 513.9,269.8 524.0,265.1 534.2,260.5 544.4,255.9 554.6,251.2 564.9,246.6 575.1,242.0 585.4,237.4 595.8,232.8 606.1,228.2 616.5,223.7 627.0,219.1 637.4,214.5"/><polyline points="488.7,287.5 498.6,282.7 508.5,277.8 518.5,273.0 528.6,268.2 538.7,263.5 548.8,258.8 559.0,254.1 569.2,249.4 579.5,244.8 589.9,240.2 600.3,235.6 610.7,231.0 621.3,226.5 631.8,221.9 642.4,217.4"/><polyline points="493.2,291.8 502.9,286.6 512.7,281.5 522.5,276.5 532.4,271.5 542.4,266.6 552.5,261.7 562.6,256.9 572.9,252.2 583.2,247.4 593.6,242.8 604.0,238.1 614.6,233.5 625.2,229.0 635.9,224.4 646.7,219.9"/></g><polyline fill="none" stroke="#f00" stroke-width="1.1" points="464.2,235.4 475.1,230.3 486.1,225.2 497.0,220.1 507.9,215.0 518.9,209.9 529.8,204.8 540.7,199.7 551.7,194.6 562.6,189.5 573.5,184.4 584.5,179.3"/>
<g stroke="#666" stroke-width="0.9"><line x1="438.7" y1="246.2" x2="425.7" y2="56.4"/><line x1="583.6" y1="178.7" x2="584.3" y2="1.2"/><line x1="708.2" y1="260.6" x2="722.4" y2="68.3"/></g>
<g stroke="#444" stroke-width="0.9"><line x1="425.7" y1="56.4" x2="584.3" y2="1.2"/><line x1="584.3" y1="1.2" x2="722.4" y2="68.3"/></g>
<g fill="#000"><circle cx="438.7" cy="246.2" r="1.2"/><circle cx="469.2" cy="271.6" r="1.2"/><circle cx="499.0" cy="296.7" r="1.2"/><circle cx="528.8" cy="321.9" r="1.2"/><circle cx="559.0" cy="347.4" r="1.2"/><circle cx="596.2" cy="325.6" r="1.2"/><circle cx="634.0" cy="304.4" r="1.2"/><circle cx="671.0" cy="282.4" r="1.2"/><circle cx="708.2" cy="260.6" r="1.2"/><circle cx="425.6" cy="56.4" r="1.2"/><circle cx="427.0" cy="81.0" r="1.2"/><circle cx="429.5" cy="105.8" r="1.2"/><circle cx="430.3" cy="130.9" r="1.2"/><circle cx="432.4" cy="155.2" r="1.2"/></g>
<g fill="#fff" stroke="#000" stroke-width="1.15" stroke-linejoin="round">
<polygon points="582.9,99.5 590.5,96.5 583.9,91.3 576.4,94.3"/>
<polygon points="575.3,102.5 582.9,99.5 576.4,94.3 568.8,97.3"/>
<polygon points="589.4,104.1 597.0,101.1 590.5,96.5 582.9,99.5"/>
<polygon points="567.7,105.5 575.3,102.5 568.8,97.3 561.2,100.2"/>
<polygon points="581.8,107.1 589.4,104.1 582.9,99.5 575.3,102.5"/>
<polygon points="596.0,108.1 603.6,105.1 597.0,101.1 589.4,104.1"/>
<polygon points="560.1,108.5 567.7,105.5 561.2,100.2 553.6,103.2"/>
<polygon points="574.2,110.1 581.8,107.1 575.3,102.5 567.7,105.5"/>
<polygon points="588.4,111.2 596.0,108.1 589.4,104.1 581.8,107.1"/>
<polygon points="602.5,111.6 610.2,108.5 603.6,105.1 596.0,108.1"/>
<polygon points="552.5,111.5 560.1,108.5 553.6,103.2 546.0,106.3"/>
<polygon points="566.6,113.2 574.2,110.1 567.7,105.5 560.1,108.5"/>
<polygon points="580.8,114.2 588.4,111.2 581.8,107.1 574.2,110.1"/>
<polygon points="594.9,114.6 602.5,111.6 596.0,108.1 588.4,111.2"/>
<polygon points="609.1,114.5 616.7,111.4 610.2,108.5 602.5,111.6"/>
<polygon points="544.9,114.6 552.5,111.5 546.0,106.3 538.4,109.3"/>
<polygon points="559.0,116.2 566.6,113.2 560.1,108.5 552.5,111.5"/>
<polygon points="573.1,117.3 580.8,114.2 574.2,110.1 566.6,113.2"/>
<polygon points="587.3,117.7 594.9,114.6 588.4,111.2 580.8,114.2"/>
<polygon points="601.4,117.5 609.1,114.5 602.5,111.6 594.9,114.6"/>
<polygon points="615.7,116.7 623.3,113.7 616.7,111.4 609.1,114.5"/>
<polygon points="537.4,117.6 544.9,114.6 538.4,109.3 530.9,112.3"/>
<polygon points="551.4,119.3 559.0,116.2 552.5,111.5 544.9,114.6"/>
<polygon points="565.5,120.4 573.1,117.3 566.6,113.2 559.0,116.2"/>
<polygon points="579.6,120.8 587.3,117.7 580.8,114.2 573.1,117.3"/>
<polygon points="593.8,120.6 601.4,117.5 594.9,114.6 587.3,117.7"/>
<polygon points="608.0,119.8 615.7,116.7 609.1,114.5 601.4,117.5"/>
<polygon points="529.8,120.7 537.4,117.6 530.9,112.3 523.3,115.4"/>
<polygon points="543.8,122.4 551.4,119.3 544.9,114.6 537.4,117.6"/>
<polygon points="622.3,118.4 629.9,115.3 623.3,113.7 615.7,116.7"/>
<polygon points="557.9,123.4 565.5,120.4 559.0,116.2 551.4,119.3"/>
<polygon points="572.0,123.9 579.6,120.8 573.1,117.3 565.5,120.4"/>
<polygon points="586.2,123.7 593.8,120.6 587.3,117.7 579.6,120.8"/>
<polygon points="600.3,122.9 608.0,119.8 601.4,117.5 593.8,120.6"/>
<polygon points="522.2,123.8 529.8,120.7 523.3,115.4 515.7,118.4"/>
<polygon points="536.2,125.5 543.8,122.4 537.4,117.6 529.8,120.7"/>
<polygon points="614.6,121.5 622.3,118.4 615.7,116.7 608.0,119.8"/>
<polygon points="550.3,126.5 557.9,123.4 551.4,119.3 543.8,122.4"/>
<polygon points="564.4,127.0 572.0,123.9 565.5,120.4 557.9,123.4"/>
<polygon points="628.9,119.5 636.6,116.4 629.9,115.3 622.3,118.4"/>
<polygon points="578.5,126.8 586.2,123.7 579.6,120.8 572.0,123.9"/>
<polygon points="592.7,126.0 600.3,122.9 593.8,120.6 586.2,123.7"/>
<polygon points="514.6,126.9 522.2,123.8 515.7,118.4 508.1,121.5"/>
<polygon points="528.6,128.6 536.2,125.5 529.8,120.7 522.2,123.8"/>
<polygon points="606.9,124.6 614.6,121.5 608.0,119.8 600.3,122.9"/>
<polygon points="542.7,129.6 550.3,126.5 543.8,122.4 536.2,125.5"/>
<polygon points="556.8,130.1 564.4,127.0 557.9,123.4 550.3,126.5"/>
<polygon points="621.2,122.6 628.9,119.5 622.3,118.4 614.6,121.5"/>
<polygon points="570.9,129.9 578.5,126.8 572.0,123.9 564.4,127.0"/>
<polygon points="585.0,129.2 592.7,126.0 586.2,123.7 578.5,126.8"/>
<polygon points="635.6,120.0 643.3,116.9 636.6,116.4 628.9,119.5"/>
<polygon points="507.0,130.0 514.6,126.9 508.1,121.5 500.5,124.6"/>
<polygon points="521.0,131.7 528.6,128.6 522.2,123.8 514.6,126.9"/>
<polygon points="599.2,127.8 606.9,124.6 600.3,122.9 592.7,126.0"/>
<polygon points="535.1,132.8 542.7,129.6 536.2,125.5 528.6,128.6"/>
<polygon points="549.1,133.2 556.8,130.1 550.3,126.5 542.7,129.6"/>
<polygon points="613.5,125.7 621.2,122.6 614.6,121.5 606.9,124.6"/>
<polygon points="563.2,133.1 570.9,129.9 564.4,127.0 556.8,130.1"/>
<polygon points="577.3,132.3 585.0,129.2 578.5,126.8 570.9,129.9"/>
<polygon points="499.4,133.1 507.0,130.0 500.5,124.6 492.9,127.6"/>
<polygon points="627.9,123.1 635.6,120.0 628.9,119.5 621.2,122.6"/>
<polygon points="513.4,134.8 521.0,131.7 514.6,126.9 507.0,130.0"/>
<polygon points="527.4,135.9 535.1,132.8 528.6,128.6 521.0,131.7"/>
<polygon points="591.5,130.9 599.2,127.8 592.7,126.0 585.0,129.2"/>
<polygon points="541.5,136.3 549.1,133.2 542.7,129.6 535.1,132.8"/>
<polygon points="642.3,119.8 650.0,116.7 643.3,116.9 635.6,120.0"/>
<polygon points="605.8,128.9 613.5,125.7 606.9,124.6 599.2,127.8"/>
<polygon points="555.6,136.2 563.2,133.1 556.8,130.1 549.1,133.2"/>
<polygon points="569.7,135.4 577.3,132.3 570.9,129.9 563.2,133.1"/>
<polygon points="491.8,136.2 499.4,133.1 492.9,127.6 485.4,130.7"/>
<polygon points="620.1,126.2 627.9,123.1 621.2,122.6 613.5,125.7"/>
<polygon points="505.8,137.9 513.4,134.8 507.0,130.0 499.4,133.1"/>
<polygon points="519.8,139.0 527.4,135.9 521.0,131.7 513.4,134.8"/>
<polygon points="583.8,134.0 591.5,130.9 585.0,129.2 577.3,132.3"/>
<polygon points="533.9,139.5 541.5,136.3 535.1,132.8 527.4,135.9"/>
<polygon points="634.5,122.9 642.3,119.8 635.6,120.0 627.9,123.1"/>
<polygon points="598.1,132.0 605.8,128.9 599.2,127.8 591.5,130.9"/>
<polygon points="547.9,139.3 555.6,136.2 549.1,133.2 541.5,136.3"/>
<polygon points="562.0,138.6 569.7,135.4 563.2,133.1 555.6,136.2"/>
<polygon points="484.2,139.3 491.8,136.2 485.4,130.7 477.8,133.9"/>
<polygon points="649.1,119.0 656.8,115.9 650.0,116.7 642.3,119.8"/>
<polygon points="612.4,129.3 620.1,126.2 613.5,125.7 605.8,128.9"/>
<polygon points="498.2,141.1 505.8,137.9 499.4,133.1 491.8,136.2"/>
<polygon points="512.2,142.2 519.8,139.0 513.4,134.8 505.8,137.9"/>
<polygon points="576.2,137.2 583.8,134.0 577.3,132.3 569.7,135.4"/>
<polygon points="526.2,142.6 533.9,139.5 527.4,135.9 519.8,139.0"/>
<polygon points="626.8,126.1 634.5,122.9 627.9,123.1 620.1,126.2"/>
<polygon points="540.3,142.5 547.9,139.3 541.5,136.3 533.9,139.5"/>
<polygon points="590.4,135.1 598.1,132.0 591.5,130.9 583.8,134.0"/>
<polygon points="554.3,141.7 562.0,138.6 555.6,136.2 547.9,139.3"/>
<polygon points="476.6,142.5 484.2,139.3 477.8,133.9 470.2,137.0"/>
<polygon points="490.6,144.2 498.2,141.1 491.8,136.2 484.2,139.3"/>
<polygon points="604.7,132.5 612.4,129.3 605.8,128.9 598.1,132.0"/>
<polygon points="641.3,122.2 649.1,119.0 642.3,119.8 634.5,122.9"/>
<polygon points="504.6,145.3 512.2,142.2 505.8,137.9 498.2,141.1"/>
<polygon points="568.5,140.3 576.2,137.2 569.7,135.4 562.0,138.6"/>
<polygon points="518.6,145.8 526.2,142.6 519.8,139.0 512.2,142.2"/>
<polygon points="619.0,129.2 626.8,126.1 620.1,126.2 612.4,129.3"/>
<polygon points="532.6,145.7 540.3,142.5 533.9,139.5 526.2,142.6"/>
<polygon points="582.7,138.3 590.4,135.1 583.8,134.0 576.2,137.2"/>
<polygon points="655.9,117.6 663.7,114.5 656.8,115.9 649.1,119.0"/>
<polygon points="546.7,144.9 554.3,141.7 547.9,139.3 540.3,142.5"/>
<polygon points="469.0,145.6 476.6,142.5 470.2,137.0 462.6,140.1"/>
<polygon points="483.0,147.4 490.6,144.2 484.2,139.3 476.6,142.5"/>
<polygon points="596.9,135.6 604.7,132.5 598.1,132.0 590.4,135.1"/>
<polygon points="633.5,125.3 641.3,122.2 634.5,122.9 626.8,126.1"/>
<polygon points="497.0,148.5 504.6,145.3 498.2,141.1 490.6,144.2"/>
<polygon points="560.8,143.5 568.5,140.3 562.0,138.6 554.3,141.7"/>
<polygon points="510.9,149.0 518.6,145.8 512.2,142.2 504.6,145.3"/>
<polygon points="611.3,132.3 619.0,129.2 612.4,129.3 604.7,132.5"/>
<polygon points="525.0,148.8 532.6,145.7 526.2,142.6 518.6,145.8"/>
<polygon points="574.9,141.4 582.7,138.3 576.2,137.2 568.5,140.3"/>
<polygon points="648.1,120.7 655.9,117.6 649.1,119.0 641.3,122.2"/>
<polygon points="539.0,148.1 546.7,144.9 540.3,142.5 532.6,145.7"/>
<polygon points="461.4,148.8 469.0,145.6 462.6,140.1 455.0,143.3"/>
<polygon points="475.4,150.5 483.0,147.4 476.6,142.5 469.0,145.6"/>
<polygon points="589.2,138.8 596.9,135.6 590.4,135.1 582.7,138.3"/>
<polygon points="625.7,128.4 633.5,125.3 626.8,126.1 619.0,129.2"/>
<polygon points="489.3,151.7 497.0,148.5 490.6,144.2 483.0,147.4"/>
<polygon points="553.1,146.6 560.8,143.5 554.3,141.7 546.7,144.9"/>
<polygon points="662.8,115.6 670.6,112.5 663.7,114.5 655.9,117.6"/>
<polygon points="503.3,152.2 510.9,149.0 504.6,145.3 497.0,148.5"/>
<polygon points="603.5,135.5 611.3,132.3 604.7,132.5 596.9,135.6"/>
<polygon points="517.3,152.0 525.0,148.8 518.6,145.8 510.9,149.0"/>
<polygon points="567.2,144.6 574.9,141.4 568.5,140.3 560.8,143.5"/>
<polygon points="640.3,123.8 648.1,120.7 641.3,122.2 633.5,125.3"/>
<polygon points="453.8,152.0 461.4,148.8 455.0,143.3 447.5,146.4"/>
<polygon points="531.3,151.2 539.0,148.1 532.6,145.7 525.0,148.8"/>
<polygon points="467.8,153.7 475.4,150.5 469.0,145.6 461.4,148.8"/>
<polygon points="581.4,141.9 589.2,138.8 582.7,138.3 574.9,141.4"/>
<polygon points="617.9,131.5 625.7,128.4 619.0,129.2 611.3,132.3"/>
<polygon points="481.7,154.9 489.3,151.7 483.0,147.4 475.4,150.5"/>
<polygon points="545.4,149.8 553.1,146.6 546.7,144.9 539.0,148.1"/>
<polygon points="654.9,118.7 662.8,115.6 655.9,117.6 648.1,120.7"/>
<polygon points="495.7,155.3 503.3,152.2 497.0,148.5 489.3,151.7"/>
<polygon points="595.7,138.6 603.5,135.5 596.9,135.6 589.2,138.8"/>
<polygon points="509.6,155.2 517.3,152.0 510.9,149.0 503.3,152.2"/>
<polygon points="559.5,147.8 567.2,144.6 560.8,143.5 553.1,146.6"/>
<polygon points="632.4,127.0 640.3,123.8 633.5,125.3 625.7,128.4"/>
<polygon points="446.2,155.2 453.8,152.0 447.5,146.4 439.9,149.6"/>
<polygon points="523.6,154.4 531.3,151.2 525.0,148.8 517.3,152.0"/>
<polygon points="460.2,156.9 467.8,153.7 461.4,148.8 453.8,152.0"/>
<polygon points="669.8,112.9 677.6,109.8 670.6,112.5 662.8,115.6"/>
<polygon points="573.7,145.1 581.4,141.9 574.9,141.4 567.2,144.6"/>
<polygon points="474.1,158.1 481.7,154.9 475.4,150.5 467.8,153.7"/>
<polygon points="610.1,134.7 617.9,131.5 611.3,132.3 603.5,135.5"/>
<polygon points="537.7,153.0 545.4,149.8 539.0,148.1 531.3,151.2"/>
<polygon points="488.0,158.6 495.7,155.3 489.3,151.7 481.7,154.9"/>
<polygon points="647.1,121.8 654.9,118.7 648.1,120.7 640.3,123.8"/>
<polygon points="502.0,158.4 509.6,155.2 503.3,152.2 495.7,155.3"/>
<polygon points="588.0,141.8 595.7,138.6 589.2,138.8 581.4,141.9"/>
<polygon points="551.8,151.0 559.5,147.8 553.1,146.6 545.4,149.8"/>
<polygon points="624.6,130.1 632.4,127.0 625.7,128.4 617.9,131.5"/>
<polygon points="438.7,158.4 446.2,155.2 439.9,149.6 432.3,152.8"/>
<polygon points="516.0,157.6 523.6,154.4 517.3,152.0 509.6,155.2"/>
<polygon points="452.6,160.1 460.2,156.9 453.8,152.0 446.2,155.2"/>
<polygon points="661.9,115.9 669.8,112.9 662.8,115.6 654.9,118.7"/>
<polygon points="566.0,148.3 573.7,145.1 567.2,144.6 559.5,147.8"/>
<polygon points="466.5,161.3 474.1,158.1 467.8,153.7 460.2,156.9"/>
<polygon points="602.3,137.8 610.1,134.7 603.5,135.5 595.7,138.6"/>
<polygon points="530.0,156.2 537.7,153.0 531.3,151.2 523.6,154.4"/>
<polygon points="480.4,161.8 488.0,158.6 481.7,154.9 474.1,158.1"/>
<polygon points="639.2,124.9 647.1,121.8 640.3,123.8 632.4,127.0"/>
<polygon points="494.3,161.6 502.0,158.4 495.7,155.3 488.0,158.6"/>
<polygon points="580.2,145.0 588.0,141.8 581.4,141.9 573.7,145.1"/>
<polygon points="544.1,154.2 551.8,151.0 545.4,149.8 537.7,153.0"/>
<polygon points="616.8,133.2 624.6,130.1 617.9,131.5 610.1,134.7"/>
<polygon points="676.8,109.5 684.7,106.4 677.6,109.8 669.8,112.9" fill="#999"/>
<polygon points="508.3,160.9 516.0,157.6 509.6,155.2 502.0,158.4"/>
<polygon points="445.0,163.3 452.6,160.1 446.2,155.2 438.7,158.4"/>
<polygon points="654.0,119.0 661.9,115.9 654.9,118.7 647.1,121.8" fill="#999"/>
<polygon points="458.9,164.5 466.5,161.3 460.2,156.9 452.6,160.1"/>
<polygon points="558.2,151.5 566.0,148.3 559.5,147.8 551.8,151.0"/>
<polygon points="594.5,141.0 602.3,137.8 595.7,138.6 588.0,141.8"/>
<polygon points="522.3,159.4 530.0,156.2 523.6,154.4 516.0,157.6"/>
<polygon points="472.8,165.0 480.4,161.8 474.1,158.1 466.5,161.3"/>
<polygon points="631.4,128.0 639.2,124.9 632.4,127.0 624.6,130.1"/>
<polygon points="486.7,164.9 494.3,161.6 488.0,158.6 480.4,161.8"/>
<polygon points="572.4,148.1 580.2,145.0 573.7,145.1 566.0,148.3"/>
<polygon points="536.3,157.4 544.1,154.2 537.7,153.0 530.0,156.2"/>
<polygon points="609.0,136.4 616.8,133.2 610.1,134.7 602.3,137.8"/>
<polygon points="668.9,112.6 676.8,109.5 669.8,112.9 661.9,115.9" fill="#999"/>
<polygon points="500.6,164.1 508.3,160.9 502.0,158.4 494.3,161.6"/>
<polygon points="451.3,167.7 458.9,164.5 452.6,160.1 445.0,163.3"/>
<polygon points="646.1,122.1 654.0,119.0 647.1,121.8 639.2,124.9" fill="#999"/>
<polygon points="550.5,154.7 558.2,151.5 551.8,151.0 544.1,154.2"/>
<polygon points="586.7,144.2 594.5,141.0 588.0,141.8 580.2,145.0"/>
<polygon points="514.6,162.7 522.3,159.4 516.0,157.6 508.3,160.9"/>
<polygon points="465.1,168.2 472.8,165.0 466.5,161.3 458.9,164.5"/>
<polygon points="623.5,131.1 631.4,128.0 624.6,130.1 616.8,133.2"/>
<polygon points="479.0,168.1 486.7,164.9 480.4,161.8 472.8,165.0"/>
<polygon points="683.9,105.4 691.9,102.4 684.7,106.4 676.8,109.5" fill="#999"/>
<polygon points="564.6,151.3 572.4,148.1 566.0,148.3 558.2,151.5"/>
<polygon points="528.6,160.6 536.3,157.4 530.0,156.2 522.3,159.4"/>
<polygon points="601.1,139.5 609.0,136.4 602.3,137.8 594.5,141.0"/>
<polygon points="661.0,115.6 668.9,112.6 661.9,115.9 654.0,119.0" fill="#999"/>
<polygon points="492.9,167.3 500.6,164.1 494.3,161.6 486.7,164.9"/>
<polygon points="542.7,157.9 550.5,154.7 544.1,154.2 536.3,157.4"/>
<polygon points="638.2,125.3 646.1,122.1 639.2,124.9 631.4,128.0" fill="#999"/>
<polygon points="578.9,147.3 586.7,144.2 580.2,145.0 572.4,148.1"/>
<polygon points="506.9,165.9 514.6,162.7 508.3,160.9 500.6,164.1"/>
<polygon points="457.5,171.5 465.1,168.2 458.9,164.5 451.3,167.7"/>
<polygon points="615.6,134.3 623.5,131.1 616.8,133.2 609.0,136.4"/>
<polygon points="471.4,171.3 479.0,168.1 472.8,165.0 465.1,168.2"/>
<polygon points="556.9,154.5 564.6,151.3 558.2,151.5 550.5,154.7"/>
<polygon points="676.0,108.5 683.9,105.4 676.8,109.5 668.9,112.6" fill="#999"/>
<polygon points="520.9,163.8 528.6,160.6 522.3,159.4 514.6,162.7"/>
<polygon points="593.3,142.7 601.1,139.5 594.5,141.0 586.7,144.2"/>
<polygon points="485.3,170.6 492.9,167.3 486.7,164.9 479.0,168.1"/>
<polygon points="653.0,118.7 661.0,115.6 654.0,119.0 646.1,122.1" fill="#999"/>
<polygon points="535.0,161.1 542.7,157.9 536.3,157.4 528.6,160.6"/>
<polygon points="630.3,128.4 638.2,125.3 631.4,128.0 623.5,131.1" fill="#999"/>
<polygon points="571.1,150.5 578.9,147.3 572.4,148.1 564.6,151.3"/>
<polygon points="499.2,169.1 506.9,165.9 500.6,164.1 492.9,167.3"/>
<polygon points="607.8,137.4 615.6,134.3 609.0,136.4 601.1,139.5"/>
<polygon points="691.2,100.7 699.2,97.7 691.9,102.4 683.9,105.4" fill="#999"/>
<polygon points="463.7,174.6 471.4,171.3 465.1,168.2 457.5,171.5"/>
<polygon points="549.1,157.7 556.9,154.5 550.5,154.7 542.7,157.9"/>
<polygon points="513.2,167.1 520.9,163.8 514.6,162.7 506.9,165.9"/>
<polygon points="668.0,111.6 676.0,108.5 668.9,112.6 661.0,115.6" fill="#999"/>
<polygon points="585.5,145.9 593.3,142.7 586.7,144.2 578.9,147.3"/>
<polygon points="477.6,173.8 485.3,170.6 479.0,168.1 471.4,171.3"/>
<polygon points="645.1,121.8 653.0,118.7 646.1,122.1 638.2,125.3" fill="#999"/>
<polygon points="527.2,164.3 535.0,161.1 528.6,160.6 520.9,163.8"/>
<polygon points="622.4,131.5 630.3,128.4 623.5,131.1 615.6,134.3" fill="#999"/>
<polygon points="563.3,153.7 571.1,150.5 564.6,151.3 556.9,154.5"/>
<polygon points="491.5,172.4 499.2,169.1 492.9,167.3 485.3,170.6"/>
<polygon points="599.9,140.6 607.8,137.4 601.1,139.5 593.3,142.7"/>
<polygon points="683.1,103.8 691.2,100.7 683.9,105.4 676.0,108.5" fill="#999"/>
<polygon points="541.3,161.0 549.1,157.7 542.7,157.9 535.0,161.1"/>
<polygon points="505.4,170.3 513.2,167.1 506.9,165.9 499.2,169.1"/>
<polygon points="660.0,114.7 668.0,111.6 661.0,115.6 653.0,118.7" fill="#999"/>
<polygon points="577.6,149.1 585.5,145.9 578.9,147.3 571.1,150.5"/>
<polygon points="469.9,177.1 477.6,173.8 471.4,171.3 463.7,174.6"/>
<polygon points="637.1,124.9 645.1,121.8 638.2,125.3 630.3,128.4" fill="#999"/>
<polygon points="519.4,167.6 527.2,164.3 520.9,163.8 513.2,167.1"/>
<polygon points="614.5,134.6 622.4,131.5 615.6,134.3 607.8,137.4" fill="#999"/>
<polygon points="555.5,156.9 563.3,153.7 556.9,154.5 549.1,157.7"/>
<polygon points="483.8,175.7 491.5,172.4 485.3,170.6 477.6,173.8"/>
<polygon points="698.5,95.4 706.5,92.3 699.2,97.7 691.2,100.7" fill="#999"/>
<polygon points="592.0,143.7 599.9,140.6 593.3,142.7 585.5,145.9"/>
<polygon points="675.1,106.8 683.1,103.8 676.0,108.5 668.0,111.6" fill="#999"/>
<polygon points="497.7,173.6 505.4,170.3 499.2,169.1 491.5,172.4"/>
<polygon points="533.5,164.2 541.3,161.0 535.0,161.1 527.2,164.3"/>
<polygon points="652.0,117.7 660.0,114.7 653.0,118.7 645.1,121.8" fill="#999"/>
<polygon points="569.8,152.3 577.6,149.1 571.1,150.5 563.3,153.7"/>
<polygon points="629.2,128.1 637.1,124.9 630.3,128.4 622.4,131.5" fill="#999"/>
<polygon points="511.7,170.8 519.4,167.6 513.2,167.1 505.4,170.3"/>
<polygon points="476.1,178.9 483.8,175.7 477.6,173.8 469.9,177.1"/>
<polygon points="606.6,137.8 614.5,134.6 607.8,137.4 599.9,140.6" fill="#999"/>
<polygon points="547.7,160.1 555.5,156.9 549.1,157.7 541.3,161.0"/>
<polygon points="690.4,98.4 698.5,95.4 691.2,100.7 683.1,103.8" fill="#999"/>
<polygon points="584.1,146.9 592.0,143.7 585.5,145.9 577.6,149.1"/>
<polygon points="667.1,109.9 675.1,106.8 668.0,111.6 660.0,114.7" fill="#999"/>
<polygon points="490.0,176.8 497.7,173.6 491.5,172.4 483.8,175.7"/>
<polygon points="525.7,167.4 533.5,164.2 527.2,164.3 519.4,167.6"/>
<polygon points="644.1,120.8 652.0,117.7 645.1,121.8 637.1,124.9" fill="#999"/>
<polygon points="561.9,155.5 569.8,152.3 563.3,153.7 555.5,156.9"/>
<polygon points="621.2,131.2 629.2,128.1 622.4,131.5 614.5,134.6" fill="#999"/>
<polygon points="503.9,174.1 511.7,170.8 505.4,170.3 497.7,173.6"/>
<polygon points="539.9,163.4 547.7,160.1 541.3,161.0 533.5,164.2"/>
<polygon points="598.7,140.9 606.6,137.8 599.9,140.6 592.0,143.7" fill="#999"/>
<polygon points="705.9,89.3 714.0,86.3 706.5,92.3 698.5,95.4" fill="#999"/>
<polygon points="682.3,101.4 690.4,98.4 683.1,103.8 675.1,106.8" fill="#999"/>
<polygon points="576.3,150.1 584.1,146.9 577.6,149.1 569.8,152.3"/>
<polygon points="482.3,180.1 490.0,176.8 483.8,175.7 476.1,178.9"/>
<polygon points="659.1,113.0 667.1,109.9 660.0,114.7 652.0,117.7" fill="#999"/>
<polygon points="517.9,170.7 525.7,167.4 519.4,167.6 511.7,170.8"/>
<polygon points="636.1,123.9 644.1,120.8 637.1,124.9 629.2,128.1" fill="#999"/>
<polygon points="554.1,158.7 561.9,155.5 555.5,156.9 547.7,160.1"/>
<polygon points="613.3,134.3 621.2,131.2 614.5,134.6 606.6,137.8" fill="#999"/>
<polygon points="496.2,177.4 503.9,174.1 497.7,173.6 490.0,176.8"/>
<polygon points="532.0,166.6 539.9,163.4 533.5,164.2 525.7,167.4"/>
<polygon points="590.7,144.1 598.7,140.9 592.0,143.7 584.1,146.9" fill="#999"/>
<polygon points="697.8,92.3 705.9,89.3 698.5,95.4 690.4,98.4" fill="#999"/>
<polygon points="568.4,153.3 576.3,150.1 569.8,152.3 561.9,155.5"/>
<polygon points="674.3,104.4 682.3,101.4 675.1,106.8 667.1,109.9" fill="#999"/>
<polygon points="510.2,173.9 517.9,170.7 511.7,170.8 503.9,174.1"/>
<polygon points="651.0,116.0 659.1,113.0 652.0,117.7 644.1,120.8" fill="#999"/>
<polygon points="628.1,127.0 636.1,123.9 629.2,128.1 621.2,131.2" fill="#999"/>
<polygon points="546.2,161.9 554.1,158.7 547.7,160.1 539.9,163.4"/>
<polygon points="605.3,137.5 613.3,134.3 606.6,137.8 598.7,140.9" fill="#999"/>
<polygon points="488.4,180.6 496.2,177.4 490.0,176.8 482.3,180.1"/>
<polygon points="524.2,169.9 532.0,166.6 525.7,167.4 517.9,170.7"/>
<polygon points="582.8,147.3 590.7,144.1 584.1,146.9 576.3,150.1" fill="#999"/>
<polygon points="713.4,82.5 721.6,79.6 714.0,86.3 705.9,89.3" fill="#999"/>
<polygon points="689.7,95.3 697.8,92.3 690.4,98.4 682.3,101.4" fill="#999"/>
<polygon points="560.5,156.5 568.4,153.3 561.9,155.5 554.1,158.7"/>
<polygon points="666.2,107.5 674.3,104.4 667.1,109.9 659.1,113.0" fill="#999"/>
<polygon points="502.4,177.2 510.2,173.9 503.9,174.1 496.2,177.4"/>
<polygon points="643.0,119.1 651.0,116.0 644.1,120.8 636.1,123.9" fill="#999"/>
<polygon points="620.1,130.2 628.1,127.0 621.2,131.2 613.3,134.3" fill="#999"/>
<polygon points="538.4,165.1 546.2,161.9 539.9,163.4 532.0,166.6"/>
<polygon points="597.4,140.6 605.3,137.5 598.7,140.9 590.7,144.1" fill="#999"/>
<polygon points="516.4,173.1 524.2,169.9 517.9,170.7 510.2,173.9"/>
<polygon points="574.9,150.5 582.8,147.3 576.3,150.1 568.4,153.3" fill="#999"/>
<polygon points="705.3,85.5 713.4,82.5 705.9,89.3 697.8,92.3" fill="#999"/>
<polygon points="681.5,98.3 689.7,95.3 682.3,101.4 674.3,104.4" fill="#999"/>
<polygon points="552.6,159.7 560.5,156.5 554.1,158.7 546.2,161.9"/>
<polygon points="658.1,110.5 666.2,107.5 659.1,113.0 651.0,116.0" fill="#999"/>
<polygon points="494.6,180.5 502.4,177.2 496.2,177.4 488.4,180.6"/>
<polygon points="635.0,122.2 643.0,119.1 636.1,123.9 628.1,127.0" fill="#999"/>
<polygon points="612.1,133.3 620.1,130.2 613.3,134.3 605.3,137.5" fill="#999"/>
<polygon points="530.5,168.4 538.4,165.1 532.0,166.6 524.2,169.9"/>
<polygon points="589.4,143.8 597.4,140.6 590.7,144.1 582.8,147.3" fill="#999"/>
<polygon points="508.6,176.4 516.4,173.1 510.2,173.9 502.4,177.2"/>
<polygon points="567.0,153.7 574.9,150.5 568.4,153.3 560.5,156.5" fill="#999"/>
<polygon points="544.7,162.9 552.6,159.7 546.2,161.9 538.4,165.1"/>
<polygon points="697.1,88.5 705.3,85.5 697.8,92.3 689.7,95.3" fill="#999"/>
<polygon points="673.4,101.3 681.5,98.3 674.3,104.4 666.2,107.5" fill="#999"/>
<polygon points="650.0,113.6 658.1,110.5 651.0,116.0 643.0,119.1" fill="#999"/>
<polygon points="626.9,125.3 635.0,122.2 628.1,127.0 620.1,130.2" fill="#999"/>
<polygon points="522.6,171.6 530.5,168.4 524.2,169.9 516.4,173.1"/>
<polygon points="604.1,136.4 612.1,133.3 605.3,137.5 597.4,140.6" fill="#999"/>
<polygon points="581.4,146.9 589.4,143.8 582.8,147.3 574.9,150.5" fill="#999"/>
<polygon points="500.7,179.7 508.6,176.4 502.4,177.2 494.6,180.5"/>
<polygon points="559.0,156.9 567.0,153.7 560.5,156.5 552.6,159.7" fill="#999"/>
<polygon points="536.8,166.2 544.7,162.9 538.4,165.1 530.5,168.4"/>
<polygon points="688.9,91.4 697.1,88.5 689.7,95.3 681.5,98.3" fill="#999"/>
<polygon points="665.3,104.3 673.4,101.3 666.2,107.5 658.1,110.5" fill="#999"/>
<polygon points="641.9,116.7 650.0,113.6 643.0,119.1 635.0,122.2" fill="#999"/>
<polygon points="618.9,128.4 626.9,125.3 620.1,130.2 612.1,133.3" fill="#999"/>
<polygon points="514.8,174.9 522.6,171.6 516.4,173.1 508.6,176.4"/>
<polygon points="596.1,139.5 604.1,136.4 597.4,140.6 589.4,143.8" fill="#999"/>
<polygon points="573.5,150.1 581.4,146.9 574.9,150.5 567.0,153.7" fill="#999"/>
<polygon points="551.1,160.1 559.0,156.9 552.6,159.7 544.7,162.9" fill="#999"/>
<polygon points="528.9,169.4 536.8,166.2 530.5,168.4 522.6,171.6"/>
<polygon points="680.7,94.4 688.9,91.4 681.5,98.3 673.4,101.3" fill="#999"/>
<polygon points="657.1,107.4 665.3,104.3 658.1,110.5 650.0,113.6" fill="#999"/>
<polygon points="633.8,119.7 641.9,116.7 635.0,122.2 626.9,125.3" fill="#999"/>
<polygon points="610.8,131.5 618.9,128.4 612.1,133.3 604.1,136.4" fill="#999"/>
<polygon points="506.9,178.1 514.8,174.9 508.6,176.4 500.7,179.7"/>
<polygon points="588.0,142.7 596.1,139.5 589.4,143.8 581.4,146.9" fill="#999"/>
<polygon points="565.5,153.3 573.5,150.1 567.0,153.7 559.0,156.9" fill="#999"/>
<polygon points="543.2,163.3 551.1,160.1 544.7,162.9 536.8,166.2" fill="#999"/>
<polygon points="521.0,172.7 528.9,169.4 522.6,171.6 514.8,174.9"/>
<polygon points="672.5,97.4 680.7,94.4 673.4,101.3 665.3,104.3" fill="#999"/>
<polygon points="649.0,110.4 657.1,107.4 650.0,113.6 641.9,116.7" fill="#999"/>
<polygon points="625.7,122.8 633.8,119.7 626.9,125.3 618.9,128.4" fill="#999"/>
<polygon points="602.8,134.6 610.8,131.5 604.1,136.4 596.1,139.5" fill="#999"/>
<polygon points="580.0,145.9 588.0,142.7 581.4,146.9 573.5,150.1" fill="#999"/>
<polygon points="557.5,156.5 565.5,153.3 559.0,156.9 551.1,160.1" fill="#999"/>
<polygon points="535.2,166.5 543.2,163.3 536.8,166.2 528.9,169.4" fill="#999"/>
<polygon points="513.1,175.9 521.0,172.7 514.8,174.9 506.9,178.1"/>
<polygon points="640.9,113.4 649.0,110.4 641.9,116.7 633.8,119.7" fill="#999"/>
<polygon points="664.3,100.4 672.5,97.4 665.3,104.3 657.1,107.4" fill="#999"/>
<polygon points="617.6,125.9 625.7,122.8 618.9,128.4 610.8,131.5" fill="#999"/>
<polygon points="594.7,137.8 602.8,134.6 596.1,139.5 588.0,142.7" fill="#999"/>
<polygon points="572.0,149.0 580.0,145.9 573.5,150.1 565.5,153.3" fill="#999"/>
<polygon points="549.5,159.7 557.5,156.5 551.1,160.1 543.2,163.3" fill="#999"/>
<polygon points="527.3,169.7 535.2,166.5 528.9,169.4 521.0,172.7" fill="#999"/>
<polygon points="632.7,116.5 640.9,113.4 633.8,119.7 625.7,122.8" fill="#999"/>
<polygon points="656.2,103.4 664.3,100.4 657.1,107.4 649.0,110.4" fill="#999"/>
<polygon points="609.5,129.0 617.6,125.9 610.8,131.5 602.8,134.6" fill="#999"/>
<polygon points="586.6,140.9 594.7,137.8 588.0,142.7 580.0,145.9" fill="#999"/>
<polygon points="564.0,152.2 572.0,149.0 565.5,153.3 557.5,156.5" fill="#999"/>
<polygon points="541.6,162.9 549.5,159.7 543.2,163.3 535.2,166.5" fill="#999"/>
<polygon points="519.3,173.0 527.3,169.7 521.0,172.7 513.1,175.9" fill="#999"/>
<polygon points="624.5,119.6 632.7,116.5 625.7,122.8 617.6,125.9" fill="#999"/>
<polygon points="647.9,106.5 656.2,103.4 649.0,110.4 640.9,113.4" fill="#999"/>
<polygon points="601.4,132.1 609.5,129.0 602.8,134.6 594.7,137.8" fill="#999"/>
<polygon points="578.6,144.0 586.6,140.9 580.0,145.9 572.0,149.0" fill="#999"/>
<polygon points="556.0,155.4 564.0,152.2 557.5,156.5 549.5,159.7" fill="#999"/>
<polygon points="533.6,166.1 541.6,162.9 535.2,166.5 527.3,169.7" fill="#999"/>
<polygon points="616.4,122.6 624.5,119.6 617.6,125.9 609.5,129.0" fill="#999"/>
<polygon points="639.7,109.5 647.9,106.5 640.9,113.4 632.7,116.5" fill="#999"/>
<polygon points="593.3,135.2 601.4,132.1 594.7,137.8 586.6,140.9" fill="#999"/>
<polygon points="570.5,147.2 578.6,144.0 572.0,149.0 564.0,152.2" fill="#999"/>
<polygon points="547.9,158.6 556.0,155.4 549.5,159.7 541.6,162.9" fill="#999"/>
<polygon points="525.6,169.4 533.6,166.1 527.3,169.7 519.3,173.0" fill="#999"/>
<polygon points="608.2,125.7 616.4,122.6 609.5,129.0 601.4,132.1" fill="#999"/>
<polygon points="631.5,112.5 639.7,109.5 632.7,116.5 624.5,119.6" fill="#999"/>
<polygon points="585.2,138.3 593.3,135.2 586.6,140.9 578.6,144.0" fill="#999"/>
<polygon points="562.4,150.4 570.5,147.2 564.0,152.2 556.0,155.4" fill="#999"/>
<polygon points="539.9,161.8 547.9,158.6 541.6,162.9 533.6,166.1" fill="#999"/>
<polygon points="600.0,128.8 608.2,125.7 601.4,132.1 593.3,135.2" fill="#999"/>
<polygon points="577.1,141.5 585.2,138.3 578.6,144.0 570.5,147.2" fill="#999"/>
<polygon points="623.3,115.5 631.5,112.5 624.5,119.6 616.4,122.6" fill="#999"/>
<polygon points="554.3,153.5 562.4,150.4 556.0,155.4 547.9,158.6" fill="#999"/>
<polygon points="531.9,165.0 539.9,161.8 533.6,166.1 525.6,169.4" fill="#999"/>
<polygon points="591.9,131.9 600.0,128.8 593.3,135.2 585.2,138.3" fill="#999"/>
<polygon points="568.9,144.6 577.1,141.5 570.5,147.2 562.4,150.4" fill="#999"/>
<polygon points="615.1,118.6 623.3,115.5 616.4,122.6 608.2,125.7" fill="#999"/>
<polygon points="546.3,156.7 554.3,153.5 547.9,158.6 539.9,161.8" fill="#999"/>
<polygon points="583.7,135.0 591.9,131.9 585.2,138.3 577.1,141.5" fill="#999"/>
<polygon points="560.8,147.7 568.9,144.6 562.4,150.4 554.3,153.5" fill="#999"/>
<polygon points="606.9,121.6 615.1,118.6 608.2,125.7 600.0,128.8" fill="#999"/>
<polygon points="538.2,159.9 546.3,156.7 539.9,161.8 531.9,165.0" fill="#999"/>
<polygon points="575.5,138.1 583.7,135.0 577.1,141.5 568.9,144.6" fill="#999"/>
<polygon points="552.7,150.9 560.8,147.7 554.3,153.5 546.3,156.7" fill="#999"/>
<polygon points="598.6,124.7 606.9,121.6 600.0,128.8 591.9,131.9" fill="#999"/>
<polygon points="544.5,154.1 552.7,150.9 546.3,156.7 538.2,159.9" fill="#999"/>
<polygon points="567.3,141.2 575.5,138.1 568.9,144.6 560.8,147.7" fill="#999"/>
<polygon points="590.4,127.8 598.6,124.7 591.9,131.9 583.7,135.0" fill="#999"/>
<polygon points="559.1,144.3 567.3,141.2 560.8,147.7 552.7,150.9" fill="#999"/>
<polygon points="582.2,130.9 590.4,127.8 583.7,135.0 575.5,138.1" fill="#999"/>
<polygon points="550.9,147.5 559.1,144.3 552.7,150.9 544.5,154.1" fill="#999"/>
<polygon points="573.9,133.9 582.2,130.9 575.5,138.1 567.3,141.2" fill="#999"/>
<polygon points="565.7,137.0 573.9,133.9 567.3,141.2 559.1,144.3" fill="#999"/>
<polygon points="557.4,140.1 565.7,137.0 559.1,144.3 550.9,147.5" fill="#999"/>
</g>
<text class="n" x="27.18" y="79.71" font-size="11.80" textLength="20.48" lengthAdjust="spacingAndGlyphs">256.6</text>
<text class="n" x="29.02" y="103.30" font-size="11.80" textLength="19.59" lengthAdjust="spacingAndGlyphs">203.5</text>
<text class="n" x="29.36" y="128.50" font-size="11.80" textLength="21.32" lengthAdjust="spacingAndGlyphs">150.5</text>
<text class="n" x="36.23" y="152.09" font-size="11.80" textLength="14.97" lengthAdjust="spacingAndGlyphs">97.4</text>
<text class="n" x="39.12" y="175.72" font-size="11.80" textLength="15.07" lengthAdjust="spacingAndGlyphs">44.3</text>
<text class="n" x="402.56" y="68.17" font-size="11.80" textLength="18.54" lengthAdjust="spacingAndGlyphs">248.6</text>
<text class="n" x="403.99" y="92.37" font-size="11.80" textLength="20.60" lengthAdjust="spacingAndGlyphs">200.0</text>
<text class="n" x="404.85" y="117.18" font-size="11.80" textLength="19.73" lengthAdjust="spacingAndGlyphs">151.5</text>
<text class="n" x="406.51" y="142.34" font-size="11.80" textLength="20.23" lengthAdjust="spacingAndGlyphs">102.9</text>
<text class="n" x="413.18" y="167.24" font-size="11.80" textLength="15.01" lengthAdjust="spacingAndGlyphs">54.4</text>
<text class="n" x="43.83" y="262.98" font-size="11.80" textLength="17.62" lengthAdjust="spacingAndGlyphs">0.10</text>
<text class="n" x="76.13" y="286.82" font-size="11.80" textLength="16.26" lengthAdjust="spacingAndGlyphs">0.08</text>
<text class="n" x="108.31" y="311.37" font-size="11.80" textLength="15.71" lengthAdjust="spacingAndGlyphs">0.06</text>
<text class="n" x="138.75" y="336.54" font-size="11.80" textLength="16.78" lengthAdjust="spacingAndGlyphs">0.04</text>
<text class="n" x="171.05" y="359.28" font-size="11.80" textLength="16.66" lengthAdjust="spacingAndGlyphs">0.02</text>
<text class="n" x="195.25" y="360.03" font-size="11.80" textLength="21.13" lengthAdjust="spacingAndGlyphs">10.00</text>
<text class="n" x="235.04" y="339.77" font-size="11.80" textLength="21.48" lengthAdjust="spacingAndGlyphs">20.00</text>
<text class="n" x="273.95" y="319.23" font-size="11.80" textLength="21.99" lengthAdjust="spacingAndGlyphs">30.00</text>
<text class="n" x="314.56" y="298.21" font-size="11.80" textLength="20.53" lengthAdjust="spacingAndGlyphs">40.00</text>
<text class="n" x="352.13" y="276.41" font-size="11.80" textLength="21.20" lengthAdjust="spacingAndGlyphs">50.00</text>
<text class="n" x="29.43" y="334.80" font-size="13.60" textLength="82.54" lengthAdjust="spacingAndGlyphs">K: Adsorbent dosage</text>
<text class="n" x="289.37" y="348.33" font-size="13.60" textLength="61.35" lengthAdjust="spacingAndGlyphs">I: Contact time</text>
<text class="n" x="419.08" y="257.74" font-size="11.80" textLength="15.90" lengthAdjust="spacingAndGlyphs">0.10</text>
<text class="n" x="448.06" y="283.14" font-size="11.80" textLength="17.51" lengthAdjust="spacingAndGlyphs">0.08</text>
<text class="n" x="478.37" y="308.28" font-size="11.80" textLength="17.68" lengthAdjust="spacingAndGlyphs">0.06</text>
<text class="n" x="510.35" y="333.24" font-size="11.80" textLength="16.00" lengthAdjust="spacingAndGlyphs">0.04</text>
<text class="n" x="538.91" y="359.09" font-size="11.80" textLength="16.06" lengthAdjust="spacingAndGlyphs">0.02</text>
<text class="n" x="562.78" y="357.40" font-size="11.80" textLength="20.83" lengthAdjust="spacingAndGlyphs">30.00</text>
<text class="n" x="599.70" y="337.55" font-size="11.80" textLength="20.45" lengthAdjust="spacingAndGlyphs">35.00</text>
<text class="n" x="638.25" y="315.63" font-size="11.80" textLength="19.64" lengthAdjust="spacingAndGlyphs">40.00</text>
<text class="n" x="675.70" y="294.13" font-size="11.80" textLength="19.33" lengthAdjust="spacingAndGlyphs">45.00</text>
<text class="n" x="711.68" y="272.97" font-size="11.80" textLength="21.15" lengthAdjust="spacingAndGlyphs">50.00</text>
<text class="n" x="404.77" y="332.76" font-size="13.60" textLength="78.39" lengthAdjust="spacingAndGlyphs">K: Adsorbent dosage</text>
<text class="n" x="637.00" y="347.07" font-size="13.60" textLength="86.49" lengthAdjust="spacingAndGlyphs">J: Solution temperature</text>
<text class="n" transform="translate(9.60 223.41) rotate(-90)" font-size="9.60" textLength="118.66" lengthAdjust="spacingAndGlyphs">Adsorption capacity</text>
<text class="n" transform="translate(385.60 217.58) rotate(-90)" font-size="9.60" textLength="123.00" lengthAdjust="spacingAndGlyphs">Adsorption capacity</text>
<text class="h" x="23.45" y="17.54" font-size="18.00" textLength="21.75" lengthAdjust="spacingAndGlyphs">(a)</text>
<text class="h" x="696.50" y="18.34" font-size="18.00" textLength="23.32" lengthAdjust="spacingAndGlyphs">(b)</text>
</svg>
</body></html>
